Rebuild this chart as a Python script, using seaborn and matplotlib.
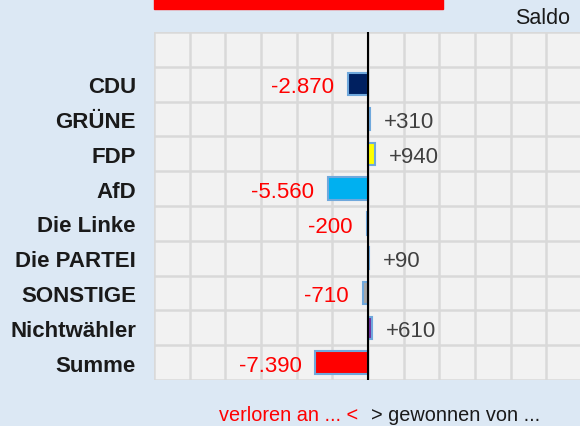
import matplotlib
matplotlib.use("Agg")
import matplotlib.pyplot as plt
from matplotlib.patches import Rectangle
import seaborn as sns
import pandas as pd

parties = ["CDU", "GRÜNE", "FDP", "AfD", "Die Linke", "Die PARTEI",
           "SONSTIGE", "Nichtwähler", "Summe"]
saldo = [-2870, 310, 940, -5560, -200, 90, -710, 610, -7390]
bar_colors = ["#002060", "#1e9c3c", "#ffff00", "#00b0f0", "#be3075",
              "#404040", "#a6a6a6", "#7030a0", "#ff0000"]

sns.set_theme(style="white")
plt.rcParams["font.family"] = ["Liberation Sans", "DejaVu Sans"]

df = pd.DataFrame({"party": parties, "saldo": saldo})

fig = plt.figure(figsize=(5.8, 4.27), dpi=100)
fig.patch.set_facecolor("#dce8f4")
ax = fig.add_axes([154/580, 46/427, 428/580, 348/427])
ax.set_facecolor("#f2f2f2")

sns.barplot(data=df, x="saldo", y="party", hue="party", order=parties,
            palette=bar_colors, saturation=1, legend=False, orient="h",
            width=0.64, edgecolor="#6fa8dc", linewidth=1.5, ax=ax, zorder=3)

ax.set_xlim(-30000, 30000)
ax.set_ylim(8.5, -1.5)
ax.set_xticks(range(-30000, 30001, 5000))
ax.set_xticklabels([])
ax.set_yticks(range(len(parties)))
ax.set_yticklabels(parties, fontsize=16, fontweight="bold", color="#1a1a1a")
ax.set_yticks([i - 0.5 for i in range(-1, len(parties) + 1)], minor=True)
ax.tick_params(axis="both", which="both", length=0)
ax.tick_params(axis="y", pad=13)
ax.grid(True, axis="x", which="major", color="#d9d9d9", linewidth=1.8, zorder=0)
ax.grid(True, axis="y", which="minor", color="#d9d9d9", linewidth=1.8, zorder=0)
ax.set_axisbelow(True)
ax.set_xlabel("")
ax.set_ylabel("")
for s in ax.spines.values():
    s.set_visible(False)

ax.axvline(0, color="black", linewidth=1.5, zorder=4)

for i, v in enumerate(saldo):
    label = f"{v:+,}".replace(",", ".")
    if v < 0:
        ax.annotate(label, (v, i), xytext=(-10, -2), textcoords="offset points",
                    ha="right", va="center", fontsize=16, color="#ff0000")
    else:
        ax.annotate(label, (v, i), xytext=(10, -2), textcoords="offset points",
                    ha="left", va="center", fontsize=16, color="#404040")

# red header strip, cut off at the top
fig.patches.append(Rectangle((154/580, 1 - 10/427), 289/580, 10/427,
                             transform=fig.transFigure, color="#ff0000"))

fig.text(543/580, 1 - 19/427, "Saldo", ha="center", va="center",
         fontsize=15.5, color="#1a1a1a")
fig.text(358/580, 1 - 416/427, "verloren an ... <", ha="right", va="center",
         fontsize=14.3, color="#ff0000")
fig.text(371/580, 1 - 416/427, "> gewonnen von ...", ha="left", va="center",
         fontsize=14.3, color="#1a1a1a")

fig.savefig("out.png", dpi=100, facecolor=fig.get_facecolor())
